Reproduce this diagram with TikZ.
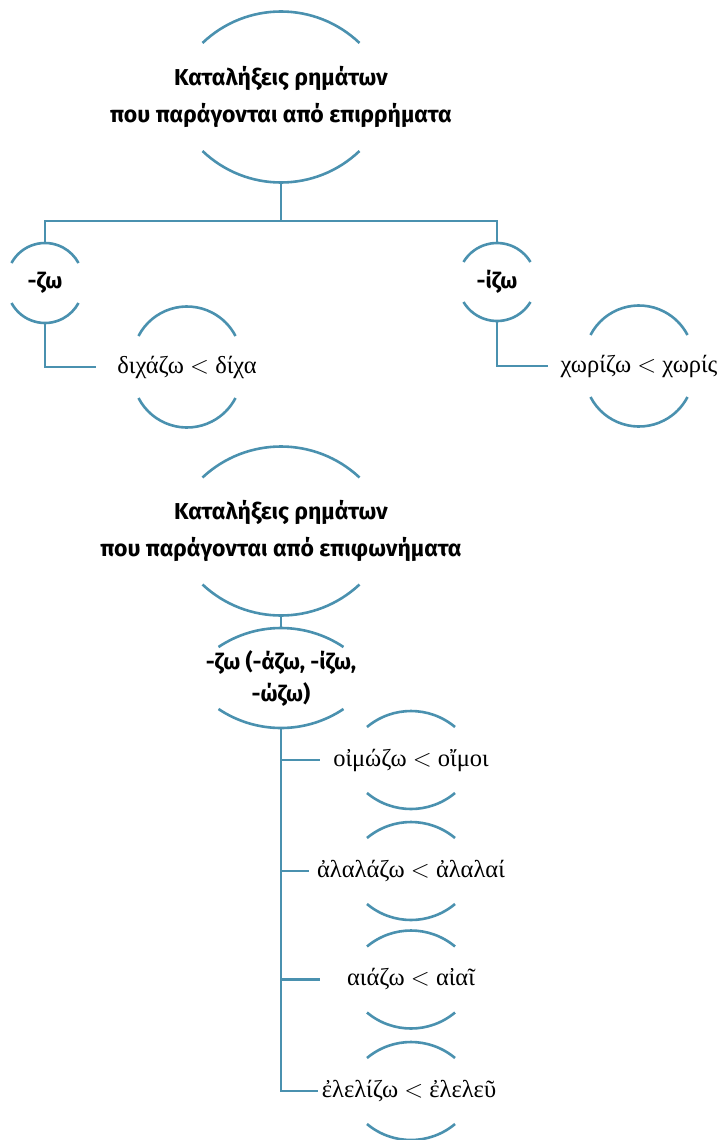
\documentclass[tikz,border=0pt]{standalone}
\usepackage{fontspec}
\newfontfamily\headfont{Fira Sans}
\newfontfamily\greekserif{Liberation Serif}
\usetikzlibrary{calc}
\definecolor{lensblue}{RGB}{74,145,175}

\tikzset{
  lensline/.style={draw=lensblue, line width=2.6pt},
  link/.style={draw=lensblue, line width=2.6pt},
  heading/.style={font=\headfont\bfseries\fontsize{23}{37}\selectfont,
    align=center, inner sep=0pt},
  suffix/.style={font=\headfont\bfseries\fontsize{22}{32}\selectfont,
    align=center, inner sep=0pt, minimum width=70pt},
  example/.style={font=\greekserif\fontsize{24.5}{30}\selectfont,
    inner ysep=0pt, inner xsep=8pt, minimum width=182pt},
}

% top and bottom arcs of a lens around a node:
% #1 node, #2 half chord, #3 offset of the chord ends from the centre, #4 sagitta
\newcommand\lensarcs[4]{%
  \pgfmathsetmacro\lensR{(#2*#2+#4*#4)/(2*#4)}%
  \pgfmathsetmacro\lensang{acos(#2/\lensR)}%
  \draw[lensline] ($(#1.center)+(-#2,#3)$)
    arc[start angle=180-\lensang, end angle=\lensang, radius=\lensR pt];
  \draw[lensline] ($(#1.center)+(-#2,-#3)$)
    arc[start angle=180+\lensang, end angle=360-\lensang, radius=\lensR pt];
}

\begin{document}
\begin{tikzpicture}[x=1pt, y=1pt]
\useasboundingbox (0,0) rectangle (718,-1140);

% first tree: verbs from adverbs
\node[heading, minimum height=170pt] (T1) at (281,-97)
  {Καταλήξεις ρημάτων\\που παράγονται από επιρρήματα};
\node[suffix, minimum height=80pt] (Z1) at (45,-283) {-ζω};
\node[suffix, minimum height=79pt] (I1) at (497,-282) {-ίζω};
\node[example, minimum height=121pt] (E1) at (187,-367)
  {διχάζω $<$ δίχα};
\node[example, minimum height=121pt] (E2) at (639,-366)
  {χωρίζω $<$ χωρίς};

\coordinate (fork) at (281,-221);
\draw[link] (T1.south) -- (fork);
\draw[link] (Z1.north) |- (fork) -| (I1.north);
\draw[link] (Z1.south) |- (E1.west);
\draw[link] (I1.south) |- (E2.west);

\lensarcs{T1}{78.5}{54}{31.5}
\lensarcs{Z1}{33.5}{20}{20}
\lensarcs{I1}{33.5}{20}{19}
\lensarcs{E1}{48.5}{31}{29.5}
\lensarcs{E2}{48.5}{31}{29.5}

% second tree: verbs from interjections
\node[heading, minimum height=169pt] (T2) at (281,-531)
  {Καταλήξεις ρημάτων\\που παράγονται από επιφωνήματα};
\node[suffix, minimum height=100pt] (D1) at (281,-678)
  {-ζω (-άζω, -ίζω,\\-ώζω)};
\node[example, minimum height=98pt] (E3) at (411,-760)
  {οἰμώζω $<$ οἴμοι};
\node[example, minimum height=98pt, minimum width=204pt] (E4) at (411,-871)
  {ἀλαλάζω $<$ ἀλαλαί};
\node[example, minimum height=101pt] (E5) at (411,-979.5)
  {αιάζω $<$ αἰαῖ};
\node[example, minimum height=98pt, inner xsep=2pt] (E6) at (409,-1091)
  {ἐλελίζω $<$ ἐλελεῦ};

\draw[link] (T2.south) -- (D1.north);
\foreach \leaf in {E3,E4,E5,E6}{
  \draw[link] (D1.south) |- (\leaf.west);
}

\lensarcs{T2}{78.5}{53.5}{31}
\lensarcs{D1}{62.5}{31}{19}
\foreach \leaf in {E3,E4,E5}{
  \lensarcs{\leaf}{44}{33}{16}
}
% the last lens sits on the same axis as the others
\coordinate (E6axis) at (E5 |- E6);
\lensarcs{E6axis}{44}{33}{16}
\end{tikzpicture}
\end{document}
